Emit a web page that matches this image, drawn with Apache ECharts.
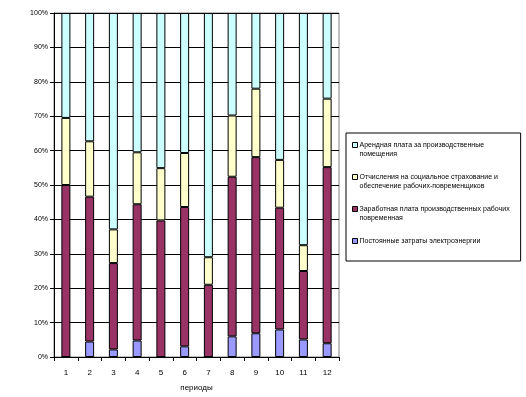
<!DOCTYPE html>
<html>
<head>
<meta charset="utf-8">
<script src="https://cdn.jsdelivr.net/npm/echarts@6/dist/echarts.min.js"></script>
<style>
  html, body { margin: 0; padding: 0; background: #fff; }
  #main { width: 526px; height: 397px; }
</style>
</head>
<body>
<div id="main"></div>
<script>
// периоды
var periods = ['1', '2', '3', '4', '5', '6', '7', '8', '9', '10', '11', '12'];
// доли затрат, % (снизу вверх)
var electricity = [0, 4.5, 2.2, 4.8, 0, 3.1, 0, 6.0, 6.9, 8.0, 5.1, 4.0];
var wages = [50.0, 42.1, 25.1, 39.6, 39.7, 40.5, 21.0, 46.4, 51.2, 35.4, 19.9, 51.2];
var social = [19.5, 16.1, 9.8, 15.1, 15.2, 15.7, 8.0, 17.8, 19.9, 13.9, 7.5, 19.9];
var rent = [30.5, 37.3, 62.9, 40.5, 45.1, 40.7, 71.0, 29.8, 22.0, 42.7, 67.5, 24.9];
var yTicks = [0, 10, 20, 30, 40, 50, 60, 70, 80, 90, 100];

var names = {
  rent: 'Арендная плата за производственные\nпомещения',
  social: 'Отчисления на социальное страхование и\nобеспечение рабочих-повременщиков',
  wages: 'Заработная плата производственных рабочих\nповременная',
  electricity: 'Постоянные затраты электроэнергии'
};

var chart = echarts.init(document.getElementById('main'), null, { renderer: 'canvas' });

function bar(name, data, color) {
  return {
    name: name,
    type: 'bar',
    stack: 'total',
    barWidth: 9,
    itemStyle: { color: color, borderColor: '#000', borderWidth: 1 },
    data: data
  };
}

// квадратик легенды прижат к первой строке подписи
var iconTop = 'path://M0,0H6V6H0Z M0,18L0.01,18';

var option = {
  backgroundColor: '#fff',
  animation: false,
  textStyle: { fontFamily: 'Liberation Sans, Arial, sans-serif' },
  grid: {
    left: 54, right: 187, top: 13, bottom: 37,
    show: true, borderColor: '#808080', borderWidth: 1
  },
  legend: {
    orient: 'vertical',
    left: 346, top: 133,
    padding: [8, 11, 6, 6],
    borderColor: '#000', borderWidth: 1,
    itemWidth: 5, itemHeight: 15, itemGap: 14,
    icon: iconTop,
    itemStyle: { borderColor: '#000', borderWidth: 1 },
    textStyle: { fontSize: 7, color: '#000', lineHeight: 9, padding: [0, 0, 0, -3] },
    formatter: function (name) {
      return name.indexOf('\n') < 0 ? name + '\n ' : name;
    },
    data: [names.rent, names.social, names.wages, names.electricity]
  },
  xAxis: {
    type: 'category',
    data: periods,
    name: 'периоды',
    nameLocation: 'middle',
    nameGap: 27,
    nameTextStyle: { fontSize: 8, color: '#000' },
    axisLine: { lineStyle: { color: '#000', width: 1 } },
    axisTick: { show: true, length: 4, lineStyle: { color: '#000' } },
    axisLabel: { fontSize: 8, color: '#000', margin: 12 }
  },
  yAxis: {
    type: 'value',
    min: 0, max: 100, interval: 10,
    axisLine: { show: true, lineStyle: { color: '#000', width: 1 } },
    axisTick: { show: true, length: 4, inside: false, lineStyle: { color: '#000' } },
    axisLabel: {
      fontSize: 7, color: '#000', margin: 6,
      formatter: function (v) { return yTicks.indexOf(v) >= 0 ? v + '%' : ''; }
    },
    splitLine: { show: true, lineStyle: { color: '#000', width: 1 } }
  },
  series: [
    bar(names.electricity, electricity, '#9999FF'),
    bar(names.wages, wages, '#993366'),
    bar(names.social, social, '#FFFFCC'),
    bar(names.rent, rent, '#CCFFFF')
  ]
};

chart.setOption(option);
</script>
</body>
</html>
